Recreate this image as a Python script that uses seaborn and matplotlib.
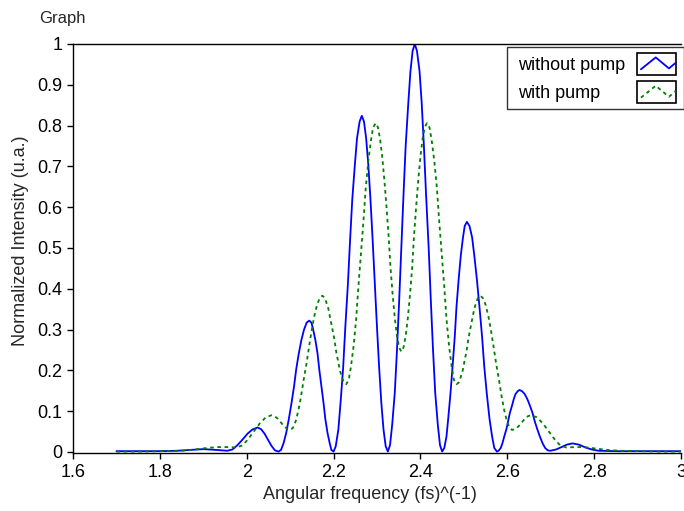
import matplotlib
matplotlib.use("Agg")
import matplotlib.pyplot as plt
import seaborn as sns
from matplotlib.legend_handler import HandlerBase
from matplotlib.lines import Line2D
from matplotlib.patches import Rectangle
from matplotlib.text import Text
from matplotlib.ticker import FuncFormatter

# spectrum without pump
blue_x = [1.70, 1.75, 1.80, 1.84, 1.87, 1.90, 1.93, 1.955,
          1.967, 1.978, 1.990, 2.002, 2.013, 2.025,
          2.033, 2.041, 2.049, 2.057, 2.065, 2.073,
          2.079, 2.085, 2.091, 2.097, 2.103, 2.109, 2.114, 2.120, 2.126, 2.132, 2.138, 2.144,
          2.149, 2.153, 2.158, 2.163, 2.167, 2.172, 2.177, 2.181, 2.186, 2.191, 2.195, 2.200,
          2.205, 2.211, 2.216, 2.222, 2.227, 2.233, 2.238, 2.243, 2.249, 2.254, 2.260, 2.265,
          2.270, 2.275, 2.280, 2.285, 2.290, 2.295, 2.300, 2.305, 2.310, 2.315, 2.320, 2.325,
          2.330, 2.335, 2.341, 2.346, 2.351, 2.356, 2.361, 2.366, 2.372, 2.377, 2.382, 2.387,
          2.392, 2.398, 2.403, 2.408, 2.413, 2.419, 2.424, 2.429, 2.434, 2.440, 2.445, 2.450,
          2.455, 2.460, 2.464, 2.469, 2.474, 2.479, 2.483, 2.488, 2.493, 2.498, 2.502, 2.507,
          2.513, 2.519, 2.524, 2.530, 2.536, 2.542, 2.547, 2.553, 2.559, 2.565, 2.570, 2.576,
          2.580, 2.585, 2.589, 2.593, 2.598, 2.602, 2.606, 2.611, 2.615, 2.619, 2.624, 2.628,
          2.634, 2.640, 2.646, 2.652, 2.658, 2.663, 2.669, 2.675, 2.681, 2.687, 2.693, 2.699,
          2.712, 2.725, 2.737, 2.750, 2.765, 2.780, 2.795, 2.810,
          2.85, 2.90, 2.95, 3.00]
blue_y = [0.002, 0.002, 0.002, 0.003, 0.005, 0.007, 0.005, 0.003,
          0.006, 0.016, 0.030, 0.045, 0.055, 0.060,
          0.056, 0.045, 0.030, 0.015, 0.004, 0.001,
          0.005, 0.022, 0.047, 0.081, 0.119, 0.161, 0.203, 0.242, 0.275, 0.300, 0.317, 0.322,
          0.317, 0.300, 0.275, 0.242, 0.203, 0.161, 0.119, 0.081, 0.047, 0.022, 0.005, 0.001,
          0.014, 0.055, 0.120, 0.206, 0.305, 0.412, 0.519, 0.618, 0.704, 0.769, 0.810, 0.824,
          0.810, 0.769, 0.704, 0.618, 0.519, 0.412, 0.305, 0.206, 0.120, 0.055, 0.014, 0.001,
          0.017, 0.067, 0.146, 0.250, 0.370, 0.500, 0.630, 0.750, 0.854, 0.933, 0.983, 1.000,
          0.983, 0.933, 0.854, 0.750, 0.630, 0.500, 0.370, 0.250, 0.146, 0.067, 0.017, 0.001,
          0.010, 0.038, 0.082, 0.141, 0.209, 0.282, 0.355, 0.423, 0.482, 0.526, 0.554, 0.564,
          0.554, 0.526, 0.482, 0.423, 0.355, 0.282, 0.209, 0.141, 0.082, 0.038, 0.010, 0.001,
          0.003, 0.010, 0.022, 0.038, 0.056, 0.076, 0.096, 0.114, 0.130, 0.142, 0.149, 0.152,
          0.149, 0.142, 0.130, 0.114, 0.096, 0.076, 0.056, 0.038, 0.022, 0.010, 0.004, 0.003,
          0.006, 0.012, 0.018, 0.021, 0.018, 0.011, 0.006, 0.003,
          0.002, 0.002, 0.002, 0.002]

# spectrum with pump
green_x = [1.70, 1.75, 1.80, 1.85, 1.88, 1.91, 1.935, 1.955, 1.976,
           1.990, 2.003, 2.017, 2.030, 2.044, 2.057,
           2.064, 2.072, 2.079, 2.086, 2.094, 2.101,
           2.107, 2.113, 2.119, 2.125, 2.131, 2.138, 2.144, 2.150, 2.156, 2.162, 2.168, 2.174,
           2.179, 2.183, 2.188, 2.192, 2.197, 2.202, 2.206, 2.211, 2.215, 2.220, 2.224, 2.229,
           2.235, 2.240, 2.246, 2.252, 2.257, 2.263, 2.269, 2.274, 2.280, 2.286, 2.291, 2.297,
           2.302, 2.307, 2.312, 2.317, 2.322, 2.327, 2.331, 2.336, 2.341, 2.346, 2.351, 2.356,
           2.361, 2.366, 2.371, 2.376, 2.381, 2.385, 2.390, 2.395, 2.400, 2.405, 2.410, 2.415,
           2.421, 2.426, 2.432, 2.438, 2.443, 2.449, 2.455, 2.460, 2.466, 2.472, 2.477, 2.483,
           2.488, 2.492, 2.497, 2.501, 2.506, 2.510, 2.515, 2.520, 2.524, 2.529, 2.533, 2.538,
           2.544, 2.550, 2.556, 2.562, 2.568, 2.574, 2.581, 2.587, 2.593, 2.599, 2.605, 2.611,
           2.618, 2.626, 2.633, 2.640, 2.648, 2.655,
           2.668, 2.682, 2.695, 2.709, 2.722, 2.736,
           2.757, 2.777, 2.800, 2.830, 2.860, 2.90, 2.95, 3.00]
green_y = [0.001, 0.001, 0.002, 0.003, 0.006, 0.010, 0.012, 0.012, 0.011,
           0.016, 0.031, 0.051, 0.070, 0.085, 0.090,
           0.088, 0.081, 0.072, 0.063, 0.056, 0.054,
           0.060, 0.076, 0.102, 0.136, 0.176, 0.219, 0.261, 0.301, 0.335, 0.361, 0.377, 0.383,
           0.379, 0.368, 0.351, 0.329, 0.303, 0.275, 0.246, 0.220, 0.198, 0.181, 0.170, 0.166,
           0.177, 0.209, 0.259, 0.326, 0.403, 0.486, 0.569, 0.646, 0.713, 0.763, 0.795, 0.806,
           0.796, 0.768, 0.724, 0.666, 0.599, 0.526, 0.453, 0.386, 0.328, 0.284, 0.256, 0.246,
           0.256, 0.284, 0.328, 0.386, 0.453, 0.526, 0.599, 0.666, 0.724, 0.768, 0.796, 0.806,
           0.795, 0.763, 0.713, 0.646, 0.569, 0.486, 0.403, 0.326, 0.259, 0.209, 0.177, 0.166,
           0.170, 0.181, 0.198, 0.220, 0.246, 0.275, 0.303, 0.329, 0.351, 0.368, 0.379, 0.383,
           0.377, 0.361, 0.335, 0.301, 0.261, 0.219, 0.176, 0.136, 0.102, 0.076, 0.060, 0.054,
           0.056, 0.063, 0.072, 0.081, 0.088, 0.090,
           0.085, 0.070, 0.051, 0.031, 0.016, 0.011,
           0.012, 0.012, 0.009, 0.005, 0.003, 0.002, 0.001, 0.001]

series_labels = ["without pump", "with pump"]
x_ticks = [1.6, 1.8, 2.0, 2.2, 2.4, 2.6, 2.8, 3.0]
y_ticks = [0, 0.1, 0.2, 0.3, 0.4, 0.5, 0.6, 0.7, 0.8, 0.9, 1.0]


class LabelBoxZigzag(HandlerBase):
    # whole legend row: label on the left, framed zigzag key on the right
    def __init__(self, label):
        super().__init__()
        self.label = label

    def create_artists(self, legend, orig_handle, xdescent, ydescent,
                       width, height, fontsize, trans):
        x0, y0 = -xdescent, -ydescent
        boxw = 28.0
        txt = Text(x0 + 4.0, y0 + height / 2 - 1, self.label, fontsize=fontsize,
                   ha="left", va="center", color="black", transform=trans)
        bx = x0 + width - boxw - 1.0
        box = Rectangle((bx, y0), boxw, height, facecolor="white",
                        edgecolor="black", lw=1.2, transform=trans)
        fx = [0.09, 0.47, 0.81, 0.98]
        fy = [0.25, 0.79, 0.29, 0.54]
        line = Line2D([bx + f * boxw for f in fx], [y0 + f * height for f in fy])
        line.update_from(orig_handle)
        line.set_transform(trans)
        return [box, line, txt]


sns.set_style("ticks")
plt.rcParams["font.family"] = ["Liberation Sans", "DejaVu Sans"]

fig = plt.figure(figsize=(6.84, 5.11), dpi=100)
ax = fig.add_axes([73 / 684, 57.8 / 511, 608 / 684, 409.2 / 511])

sns.lineplot(x=blue_x, y=blue_y, ax=ax, color="#0000ff", lw=1.3,
             sort=False, estimator=None)
sns.lineplot(x=green_x, y=green_y, ax=ax, color="#008000", lw=1.3,
             sort=False, estimator=None, linestyle=(0, (2, 2)))

ax.set_xlim(1.6, 3.0)
ax.set_ylim(-0.003, 1.0)
ax.set_xticks(x_ticks)
ax.set_yticks(y_ticks)
ax.xaxis.set_major_formatter(FuncFormatter(lambda v, p: f"{v:g}"))
ax.yaxis.set_major_formatter(FuncFormatter(lambda v, p: f"{v:g}"))
ax.tick_params(direction="out", length=4, width=1, pad=3.5, labelsize=13, colors="black")

for s in ["left", "bottom", "top"]:
    ax.spines[s].set_color("black")
    ax.spines[s].set_linewidth(1.0)
ax.spines["right"].set_visible(False)

ax.set_xlabel("Angular frequency (fs)^(-1)", fontsize=13)
ax.set_ylabel("Normalized Intensity (u.a.)", fontsize=13)
ax.xaxis.set_label_coords(0.4877, -0.080)
ax.yaxis.set_label_coords(-0.072, 0.52)

fig.text(39 / 684, 1 - 22.5 / 511, "Graph", fontsize=12, ha="left", va="baseline")

proxies = [Line2D([], [], color="#0000ff", lw=1.3),
           Line2D([], [], color="#008000", lw=1.3, linestyle=(0, (2, 2)))]
leg = ax.legend(proxies, ["", ""], loc="upper right",
                bbox_to_anchor=(683.5 / 684, 1 - 47 / 511),
                bbox_transform=fig.transFigure, borderaxespad=0,
                handlelength=9.15, handleheight=1.5, handletextpad=0,
                labelspacing=0.35, borderpad=0.32,
                fancybox=False, frameon=True, fontsize=13,
                handler_map={proxies[0]: LabelBoxZigzag(series_labels[0]),
                             proxies[1]: LabelBoxZigzag(series_labels[1])})
leg.get_frame().set_edgecolor("black")
leg.get_frame().set_linewidth(1.0)

fig.savefig("out.png", dpi=100)
